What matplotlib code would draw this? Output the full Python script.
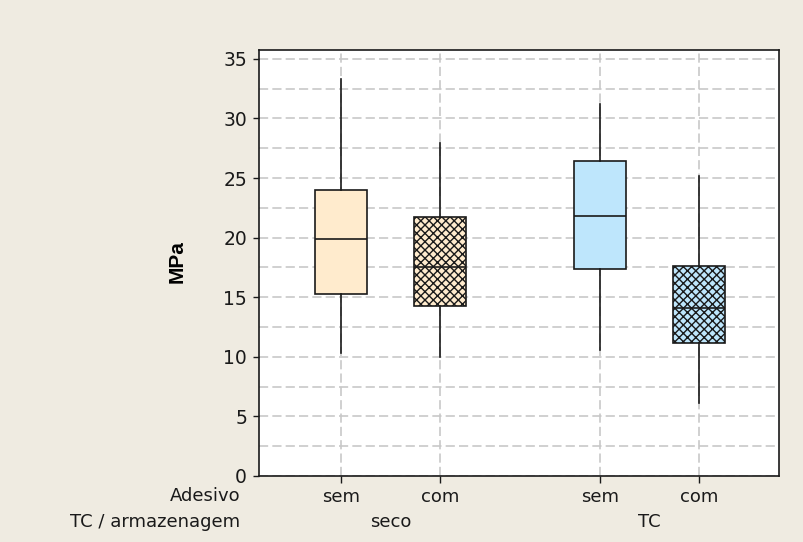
import numpy as np
import matplotlib
matplotlib.use("Agg")
import matplotlib.pyplot as plt

# valores (MPa)
grupos = ["seco", "TC"]
adesivo = ["sem", "com", "sem", "com"]
minimo = [10.3, 10.0, 10.6, 6.1]
q1 = [15.3, 14.3, 17.4, 11.15]
mediana = [19.9, 17.5, 21.8, 14.1]
q3 = [24.0, 21.75, 26.4, 17.6]
maximo = [33.3, 27.95, 31.25, 25.15]

cores = ["#FFEBCD", "#FFEBCD", "#BEE6FC", "#BEE6FC"]
hachuras = ["", "xxxx", "", "xxxx"]
posicoes = [1, 2, 3.62, 4.62]

plt.rcParams['font.family'] = ['DejaVu Sans']
plt.rcParams['hatch.linewidth'] = 1.0

fig = plt.figure(figsize=(8.04, 5.42), dpi=100)
fig.patch.set_facecolor("#EFEBE1")
ax = fig.add_axes([0.322, 0.1218, 0.647, 0.786])

stats = []
for i in range(len(adesivo)):
    stats.append(dict(whislo=minimo[i], q1=q1[i], med=mediana[i],
                      q3=q3[i], whishi=maximo[i], fliers=[]))

bp = ax.bxp(stats, positions=posicoes, widths=0.53, patch_artist=True,
            showcaps=False, showfliers=False,
            medianprops=dict(color="#1a1a1a", linewidth=1.2),
            whiskerprops=dict(color="#1a1a1a", linewidth=1.2),
            boxprops=dict(edgecolor="#1a1a1a", linewidth=1.2))
for caixa, cor, h in zip(bp["boxes"], cores, hachuras):
    caixa.set_facecolor(cor)
    caixa.set_hatch(h)
    caixa.set_zorder(3)
for m in bp["medians"]:
    m.set_zorder(4)
for w in bp["whiskers"]:
    w.set_zorder(3)

ax.set_xlim(0.17, 5.43)
ax.set_ylim(0, 35.75)
ax.set_yticks(np.arange(0, 36, 5))
ax.set_yticks(np.arange(2.5, 35, 5), minor=True)
ax.set_xticks(posicoes)
ax.set_xticklabels(adesivo, fontsize=13)
ax.tick_params(axis="y", labelsize=13.5, length=4.5, width=1, pad=4, colors="#1a1a1a")
ax.tick_params(axis="y", which="minor", length=0)
ax.tick_params(axis="x", length=5, width=1, pad=4, colors="#1a1a1a")

traco = (0, (5.5, 2.5))
ax.grid(True, which="both", axis="y", color="#c8c8c8", linestyle=traco, linewidth=1.2, zorder=1)
ax.grid(True, which="major", axis="x", color="#c8c8c8", linestyle=traco, linewidth=1.2, zorder=1)
ax.set_axisbelow(True)
for s in ax.spines.values():
    s.set_linewidth(1.2)
    s.set_color("#1a1a1a")

fig.text(177 / 804, 1 - 262 / 542, "MPa", rotation=90, ha="center", va="center",
         fontsize=15, fontweight="bold", family=["Liberation Sans", "DejaVu Sans"])

# rotulos das linhas abaixo do eixo
fig.text(240 / 804, 1 - 496 / 542, "Adesivo", ha="right", va="center", fontsize=13, color="#1a1a1a")
fig.text(240 / 804, 1 - 522 / 542, "TC / armazenagem", ha="right", va="center", fontsize=13, color="#1a1a1a")
for k, nome in enumerate(grupos):
    centro = (posicoes[2 * k] + posicoes[2 * k + 1]) / 2
    ax.text(centro, -46 / 426, nome, transform=ax.get_xaxis_transform(),
            ha="center", va="center", fontsize=13, color="#1a1a1a")

fig.savefig("out.png", dpi=100, facecolor=fig.get_facecolor())
